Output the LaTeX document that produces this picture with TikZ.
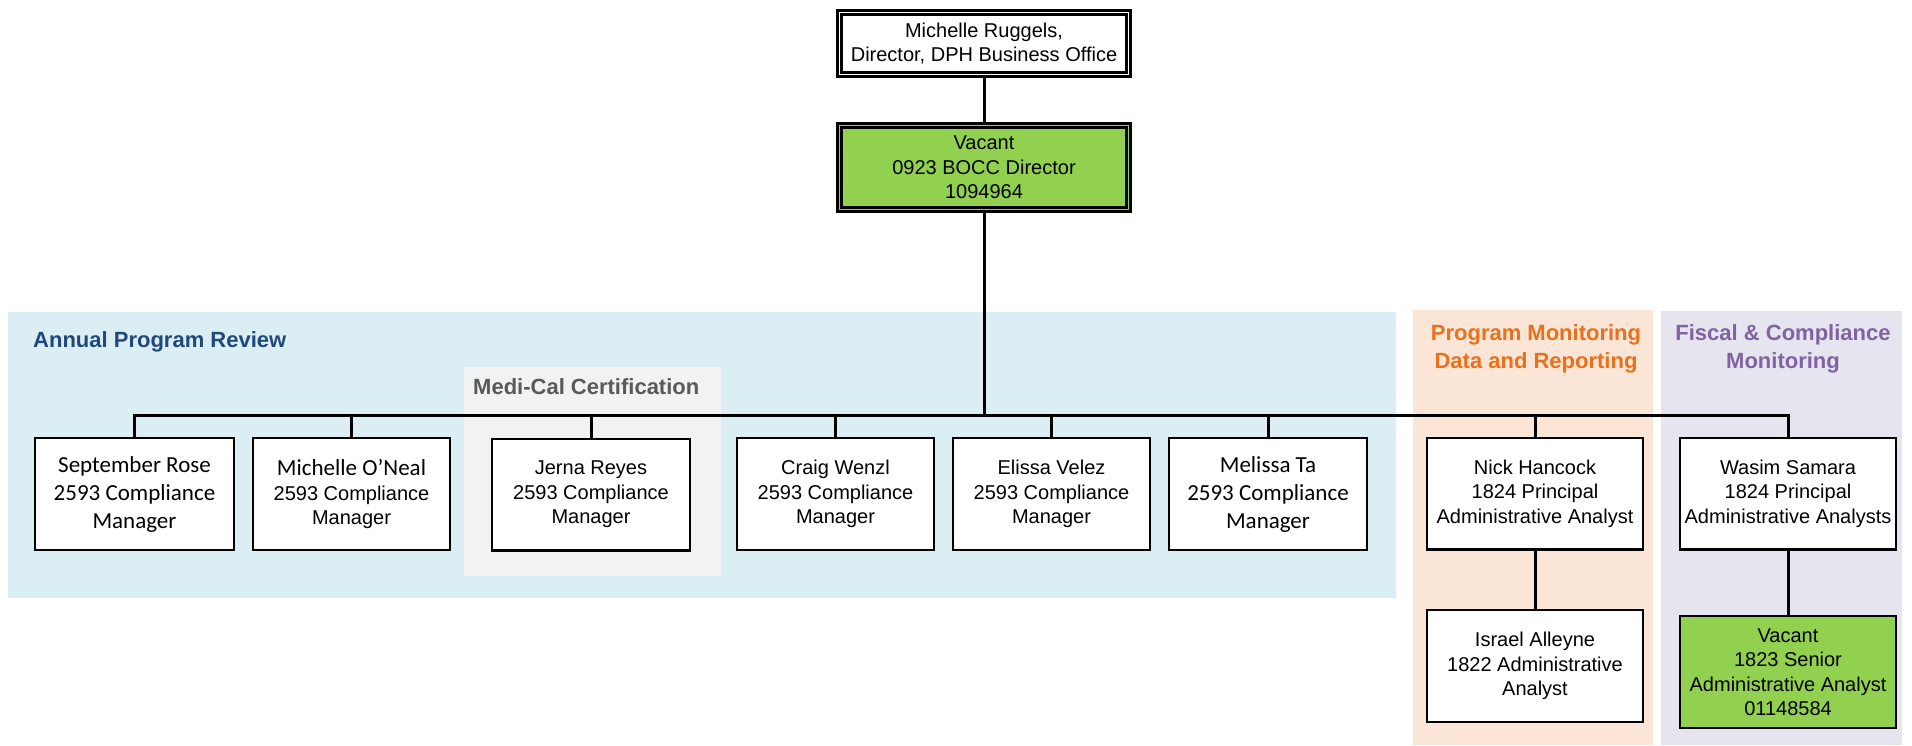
\documentclass[tikz,border=0pt]{standalone}
\usepackage{fontspec}
\setmainfont{Liberation Sans}
\newfontfamily\carlito{Carlito}
\usetikzlibrary{calc}

\definecolor{bgblue}{HTML}{DAEEF3}
\definecolor{bggrey}{HTML}{F2F2F2}
\definecolor{bgpeach}{HTML}{FBE5D6}
\definecolor{bglav}{HTML}{E6E4EE}
\definecolor{vacgreen}{HTML}{92D050}
\definecolor{navytxt}{HTML}{1F497D}
\definecolor{greytxt}{HTML}{595959}
\definecolor{orangetxt}{HTML}{E9711C}
\definecolor{purpletxt}{HTML}{8064A2}

\tikzset{
  arial/.style={font=\fontsize{20}{24.5}\selectfont},
  calib/.style={font=\carlito\fontsize{23}{28}\selectfont},
  posbox/.style={draw=black, line width=2.4pt, fill=white, rectangle,
    inner sep=0pt, align=center, minimum width=#1, minimum height=111.6pt},
  posbox/.default=197pt,
  headbox/.style={draw=black, line width=2.4pt, double=#1, double distance=1.8pt,
    fill=#1, rectangle, inner sep=0pt, align=center, minimum width=289pt},
  grouplabel/.style={font=\bfseries\fontsize{22}{28}\selectfont, inner sep=0pt, align=center},
  conn/.style={draw=black, line width=3pt},
}

\begin{document}
\begin{tikzpicture}[x=1pt, y=-1pt]
  \useasboundingbox (0,0) rectangle (1912,745);

  % group backgrounds
  \fill[bgblue]  (8,312)    rectangle (1396,598);
  \fill[bggrey]  (464,367)  rectangle (721,576);
  \fill[bgpeach] (1413,310) rectangle (1653,745);
  \fill[bglav]   (1661,311) rectangle (1902,745);

  % group titles
  \node[grouplabel, text=navytxt, anchor=west] (tAPR) at (33,342) {Annual Program Review};
  \node[grouplabel, text=greytxt, anchor=west] (tMCC) at (473,387) {Medi-Cal Certification};
  \node[grouplabel, text=orangetxt] (tPMD) at (1536,349) {Program Monitoring\\Data and Reporting};
  \node[grouplabel, text=purpletxt] (tFCM) at (1783,349) {Fiscal \& Compliance\\Monitoring};

  % leadership
  \node[headbox=white, arial, minimum height=62pt] (top) at (984,43.5)
    {Michelle Ruggels,\\Director, DPH Business Office};
  \node[headbox=vacgreen, arial, minimum height=84pt] (dir) at (984,167.5)
    {Vacant\\0923 BOCC Director\\1094964};

  % compliance managers
  \node[posbox=198.6pt, calib] (sr) at (134.5,494) {September Rose\\2593 Compliance\\Manager};
  \node[posbox=196.6pt, arial] (mo) at (351.5,494)
    {{\carlito\fontsize{23}{24}\selectfont Michelle O’Neal}\\2593 Compliance\\Manager};
  \node[posbox=197.6pt, arial] (jr) at (591,494.5) {Jerna Reyes\\2593 Compliance\\Manager};
  \node[posbox=196.6pt, arial] (cw) at (835.5,494) {Craig Wenzl\\2593 Compliance\\Manager};
  \node[posbox=196.6pt, arial] (ev) at (1051.5,494) {Elissa Velez\\2593 Compliance\\Manager};
  \node[posbox=197.6pt, calib] (mt) at (1268,494) {Melissa Ta\\2593 Compliance\\Manager};

  % analysts
  \node[posbox=215.6pt, arial] (nh) at (1535,493.5) {Nick Hancock\\1824 Principal\\Administrative Analyst};
  \node[posbox=215.6pt, arial] (ws) at (1788,493.5) {Wasim Samara\\1824 Principal\\Administrative Analysts};
  \node[posbox=215.6pt, arial] (ia) at (1535,666) {Israel Alleyne\\1822 Administrative\\Analyst};
  \node[posbox=215.6pt, arial, fill=vacgreen] (vc) at (1788,672)
    {Vacant\\1823 Senior\\Administrative Analyst\\01148584};

  % reporting lines
  \coordinate (bus) at (0,415);
  \draw[conn] (top.south) -- (dir.north);
  \foreach \c in {sr,mo,jr,cw,ev,mt,nh,ws}{
    \draw[conn] (dir.south) -- (dir.south |- bus) -| (\c.north);
  }
  \draw[conn] (nh.south) -- (ia.north);
  \draw[conn] (ws.south) -- (vc.north);
\end{tikzpicture}
\end{document}
